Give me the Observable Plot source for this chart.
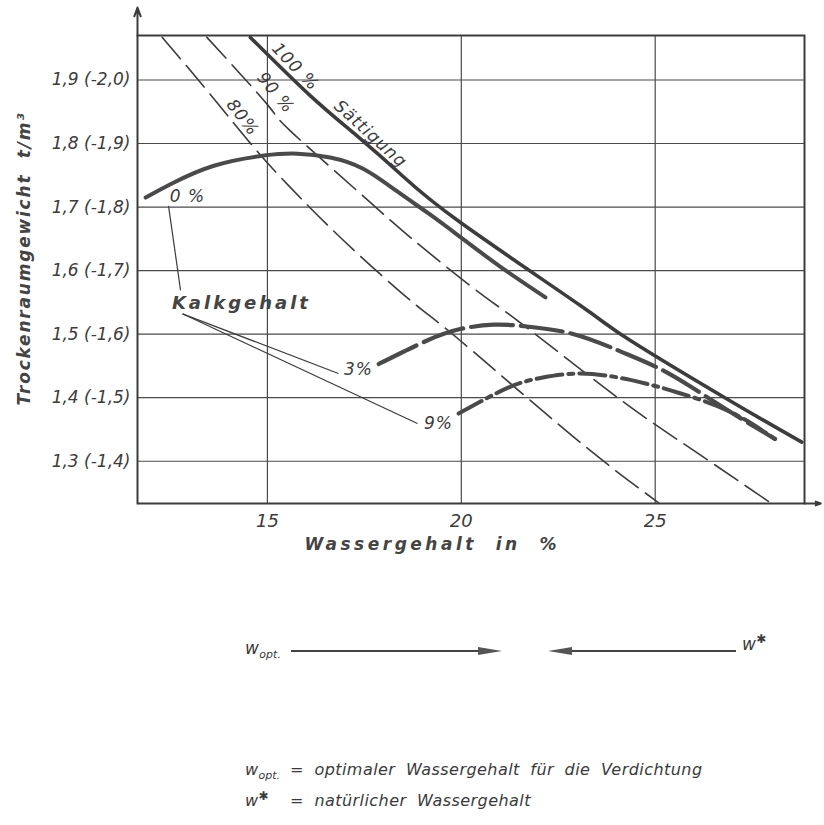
<!DOCTYPE html>
<html>
<head>
<meta charset="utf-8">
<script src="https://cdn.jsdelivr.net/npm/d3@7"></script>
<script src="https://cdn.jsdelivr.net/npm/@observablehq/plot@0.6"></script>
<style>
  body { margin: 0; background: #fff; }
  #wrap { position: relative; width: 824px; height: 825px; font-family: "DejaVu Sans", sans-serif; color: #3a3a3a; overflow: hidden; }
  #chart svg { display: block; }
  text[aria-label="curve-label"] { letter-spacing: 1px; }
  text[aria-label="kalk-label"] { letter-spacing: 3px; }
  text[aria-label="y-title"] { letter-spacing: 1.8px; }
  text[aria-label="x-title"] { letter-spacing: 3.5px; }
  g[aria-label="x-axis tick label"] text, g[aria-label="y-axis tick label"] text { font-style: italic; }
  .row { position: absolute; left: 0; font-style: italic; font-size: 16px; letter-spacing: 0.45px; word-spacing: 5px; white-space: nowrap; }
  .row .k { display: inline-block; width: 45px; }
  .row sub { font-size: 11px; letter-spacing: 0; }
  .row sup { font-size: 12px; }
</style>
</head>
<body>
<div id="wrap">
  <div id="chart"></div>
  <div class="row" style="top:638px; left:245px; font-size:17px;">w<sub>opt.</sub></div>
  <div class="row" style="top:632px; left:742px; font-size:17px;">w<sup>✱</sup></div>
  <svg id="arr" width="824" height="30" style="position:absolute; left:0; top:636px;">
    <line x1="291" y1="15" x2="485" y2="15" stroke="#444" stroke-width="2"/>
    <polygon points="478,11 502,15 478,19" fill="#555"/>
    <line x1="565" y1="15" x2="736" y2="15" stroke="#444" stroke-width="2"/>
    <polygon points="572,11 548,15 572,19" fill="#555"/>
  </svg>
  <div class="row" style="top:760px; left:245px;"><span class="k">w<sub>opt.</sub></span>= optimaler Wassergehalt für die Verdichtung</div>
  <div class="row" style="top:789px; left:245px;"><span class="k">w<sup>✱</sup></span>= natürlicher Wassergehalt</div>
</div>
<script>
// ---- axes ----
const xTicks = [15, 20, 25];
const yTicks = [1.3, 1.4, 1.5, 1.6, 1.7, 1.8, 1.9];
const yTickLabels = ["1,3 (-1,4)", "1,4 (-1,5)", "1,5 (-1,6)", "1,6 (-1,7)", "1,7 (-1,8)", "1,8 (-1,9)", "1,9 (-2,0)"];
const xDomain = [11.65, 28.85];
const yDomain = [1.2335, 1.97];
const xTitle = "Wassergehalt\u00a0\u00a0in\u00a0\u00a0%";
const yTitle = "Trockenraumgewicht\u00a0\u00a0t/m³";

// ---- curves [Wassergehalt %, Trockenraumgewicht t/m³] ----
const sat100 = [[14.56,1.967],[16.11,1.875],[17.31,1.812],[18.43,1.752],[19.97,1.676],[23.07,1.545],[24.36,1.49],[26.85,1.398],[28.78,1.33]];
const sat90  = [[13.44,1.967],[14.99,1.862],[15.59,1.820],[17.40,1.721],[18.69,1.652],[20.28,1.574],[21.39,1.524],[22.9,1.453],[24.48,1.380],[25.99,1.317],[28.01,1.233]];
const sat80  = [[12.29,1.967],[13.49,1.880],[14.65,1.794],[15.59,1.731],[16.97,1.647],[18.69,1.553],[19.97,1.490],[22.9,1.338],[25.09,1.2346]];
const kalk0  = [[11.86,1.715],[12.50,1.736],[13.62,1.765],[14.91,1.781],[15.77,1.784],[16.62,1.778],[17.48,1.760],[18.34,1.725],[19.20,1.688],[19.97,1.653],[21.01,1.606],[22.17,1.558]];
const kalk3  = [[17.87,1.453],[19.12,1.49],[19.97,1.508],[20.83,1.515],[21.69,1.512],[22.9,1.50],[24.1,1.473],[25.04,1.448],[25.9,1.418],[26.93,1.378],[28.09,1.335]];
const kalk9  = [[19.93,1.375],[21.18,1.415],[22.04,1.431],[23.07,1.438],[24.36,1.428],[25.64,1.407],[26.93,1.378],[28.09,1.335]];

// ---- annotations ----
const curveLabels = [
  {w: 15.72, g: 1.921, text: "100 %", rotate: 46},
  {w: 17.66, g: 1.815, text: "Sättigung", rotate: 42},
  {w: 15.21, g: 1.880, text: "90 %", rotate: 50},
  {w: 14.36, g: 1.841, text: "80%", rotate: 52},
  {w: 12.94, g: 1.716, text: "0 %", rotate: 0},
  {w: 17.35, g: 1.444, text: "3%", rotate: 0},
  {w: 19.41, g: 1.3595, text: "9%", rotate: 0}
];
const kalkLabel = [{w: 14.33, g: 1.548, text: "Kalkgehalt"}];
const leaders = [
  {w1: 12.45, g1: 1.702, w2: 12.76, g2: 1.569},
  {w1: 12.81, g1: 1.532, w2: 16.83, g2: 1.438},
  {w1: 12.81, g1: 1.532, w2: 18.87, g2: 1.3595}
];
const axisArrows = [
  {w1: 11.65, g1: 1.97, w2: 11.65, g2: 2.014},
  {w1: 28.85, g1: 1.2335, w2: 29.27, g2: 1.2335}
];

const pts = a => a.map(([w, g]) => ({w, g}));
const ink = "#3c3c3c";
const tag = name => () => name;

const chart = Plot.plot({
  width: 824,
  height: 590,
  marginLeft: 137,
  marginRight: 20,
  marginTop: 35,
  marginBottom: 87,
  x: {domain: xDomain},
  y: {domain: yDomain},
  style: {fontFamily: "DejaVu Sans, sans-serif", color: ink, background: "transparent", overflow: "visible"},
  marks: [
    Plot.gridX(xTicks, {stroke: "#4a4a4a", strokeOpacity: 1, strokeWidth: 1.2}),
    Plot.gridY(yTicks, {stroke: "#4a4a4a", strokeOpacity: 1, strokeWidth: 1.2}),
    Plot.frame({stroke: ink, strokeWidth: 2}),
    Plot.axisX(xTicks, {tickSize: 0, tickPadding: 11, fontSize: 18, label: null}),
    Plot.axisY(yTicks, {tickSize: 0, tickPadding: 7, fontSize: 17, label: null,
      tickFormat: d => yTickLabels[yTicks.indexOf(d)]}),
    Plot.arrow(axisArrows, {x1: "w1", y1: "g1", x2: "w2", y2: "g2", stroke: ink, strokeWidth: 2, headLength: 12, headAngle: 40}),
    // saturation lines
    Plot.line(pts(sat80), {x: "w", y: "g", curve: "natural", stroke: ink, strokeWidth: 1.6, strokeDasharray: "28,9", clip: true}),
    Plot.line(pts(sat90), {x: "w", y: "g", curve: "natural", stroke: ink, strokeWidth: 1.6, strokeDasharray: "28,9", clip: true}),
    Plot.line(pts(sat100), {x: "w", y: "g", curve: "natural", stroke: ink, strokeWidth: 3.6, clip: true}),
    // compaction curves
    Plot.line(pts(kalk0), {x: "w", y: "g", curve: "natural", stroke: "#4a4a4a", strokeWidth: 4, strokeLinecap: "round"}),
    Plot.line(pts(kalk3), {x: "w", y: "g", curve: "natural", stroke: "#4a4a4a", strokeWidth: 4.2, strokeDasharray: "42,8"}),
    Plot.line(pts(kalk9), {x: "w", y: "g", curve: "natural", stroke: "#4a4a4a", strokeWidth: 4, strokeDasharray: "26,6,5,6"}),
    // leaders
    Plot.link(leaders, {x1: "w1", y1: "g1", x2: "w2", y2: "g2", stroke: ink, strokeWidth: 1.2}),
    // labels
    Plot.text(curveLabels, {x: "w", y: "g", text: "text", rotate: "rotate", fontSize: 17, fontStyle: "italic", fill: ink, ariaLabel: tag("curve-label")}),
    Plot.text(kalkLabel, {x: "w", y: "g", text: "text", fontSize: 18, fontStyle: "italic", fontWeight: "bold", fill: "#444", ariaLabel: tag("kalk-label")}),
    // axis titles
    Plot.text([{g: 1.619, t: yTitle}], {y: "g", text: "t", frameAnchor: "left", textAnchor: "middle", dx: -113, rotate: -90, fontSize: 17, fontStyle: "italic", fontWeight: "bold", fill: "#444", ariaLabel: tag("y-title")}),
    Plot.text([{w: 19.25, t: xTitle}], {x: "w", text: "t", frameAnchor: "bottom", textAnchor: "middle", dy: 46, fontSize: 17, fontStyle: "italic", fontWeight: "bold", fill: "#444", ariaLabel: tag("x-title")})
  ]
});
document.getElementById("chart").appendChild(chart);
</script>
</body>
</html>
